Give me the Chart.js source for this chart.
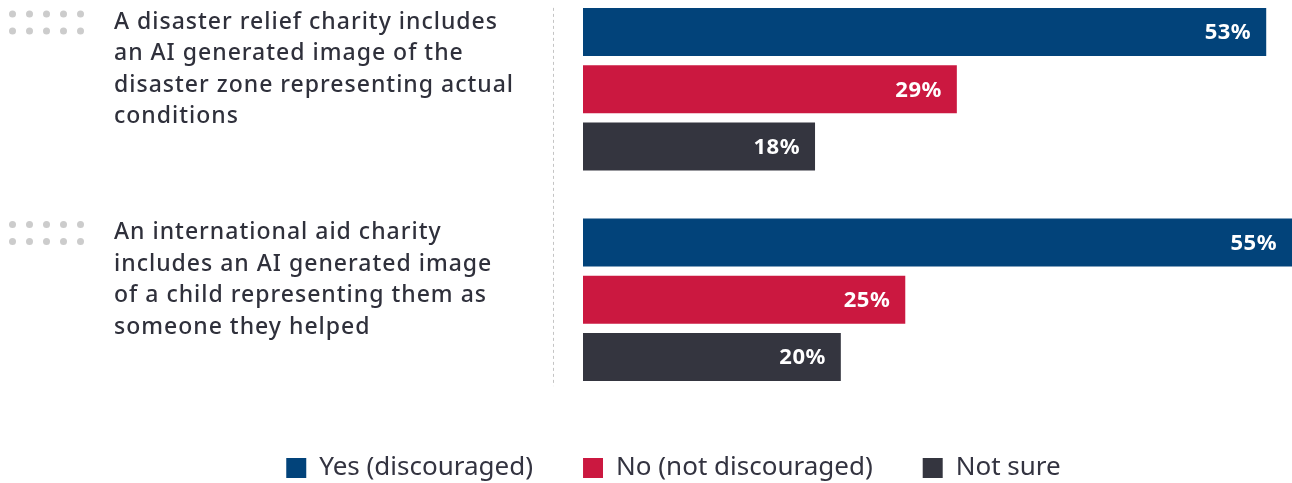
<!DOCTYPE html>
<html>
<head>
<meta charset="utf-8">
<script src="https://cdn.jsdelivr.net/npm/chart.js@4"></script>
<style>
  html, body { margin: 0; padding: 0; background: #fff; overflow: hidden; }
  #wrap { position: absolute; left: 0; top: -18px; width: 1292px; height: 509px; }
</style>
</head>
<body>
<div id="wrap"><canvas id="chart"></canvas></div>
<script>
const categories = [
  ['A disaster relief charity includes', 'an AI generated image of the', 'disaster zone representing actual', 'conditions'],
  ['An international aid charity', 'includes an AI generated image', 'of a child representing them as', 'someone they helped']
];
const series_names = ['Yes (discouraged)', 'No (not discouraged)', 'Not sure'];
const yes_values = [53, 55];
const no_values = [29, 25];
const not_sure_values = [18, 20];
const series_colors = ['#02437a', '#cb1840', '#34353f'];

const FONT = '"Noto Sans", sans-serif';

// left text, dot grid, dotted divider, value labels
const decorations = {
  id: 'decorations',
  afterDatasetsDraw (chart) {
    const ctx = chart.ctx;
    const first = chart.getDatasetMeta(0).data;
    const last = chart.getDatasetMeta(2).data;

    ctx.save();
    // dotted divider
    ctx.strokeStyle = '#c4c4c4';
    ctx.lineWidth = 1;
    ctx.setLineDash([3, 3]);
    const top = first[0].y - first[0].height / 2;
    const bottom = last[last.length - 1].y + last[last.length - 1].height / 2 + 5;
    ctx.beginPath();
    ctx.moveTo(553.5, top);
    ctx.lineTo(553.5, bottom);
    ctx.stroke();
    ctx.setLineDash([]);

    // category text and dots
    categories.forEach((lines, i) => {
      const barTop = first[i].y - first[i].height / 2;
      ctx.fillStyle = '#cccccc';
      for (let r = 0; r < 2; r++) {
        for (let c = 0; c < 5; c++) {
          ctx.beginPath();
          ctx.arc(12.5 + c * 17, barTop + 6 + r * 17, 3.5, 0, Math.PI * 2);
          ctx.fill();
        }
      }
      ctx.fillStyle = '#2f303b';
      ctx.font = '500 23px ' + FONT;
      ctx.letterSpacing = '1px';
      ctx.textAlign = 'left';
      ctx.textBaseline = 'alphabetic';
      lines.forEach((line, j) => {
        ctx.fillText(line, 114, barTop + 21 + j * 31.5);
      });
      ctx.letterSpacing = '0px';
    });

    // value labels inside bars
    ctx.fillStyle = '#ffffff';
    ctx.font = 'bold 22px ' + FONT;
    ctx.letterSpacing = '0.5px';
    ctx.textAlign = 'right';
    ctx.textBaseline = 'middle';
    chart.data.datasets.forEach((ds, d) => {
      chart.getDatasetMeta(d).data.forEach((bar, i) => {
        ctx.fillText(ds.data[i] + '%', bar.x - 15, bar.y + 1);
      });
    });
    ctx.restore();
  }
};

const datasets = [yes_values, no_values, not_sure_values].map((vals, i) => ({
  label: series_names[i],
  data: vals,
  backgroundColor: series_colors[i],
  borderWidth: 0,
  categoryPercentage: 0.816,
  barPercentage: 0.842
}));

new Chart(document.getElementById('chart').getContext('2d'), {
  type: 'bar',
  data: {
    labels: categories.map(c => c.join(' ')),
    datasets: datasets
  },
  options: {
    indexAxis: 'y',
    responsive: true,
    maintainAspectRatio: false,
    animation: false,
    events: [],
    layout: {
      // left padding nudges the centred legend to the right
      padding: { left: 55, right: 0, top: 2, bottom: 0 }
    },
    scales: {
      x: { display: false, min: 0, max: 55 },
      y: {
        display: true,
        ticks: { display: false },
        grid: { display: false },
        border: { display: false },
        afterFit: scale => { scale.width = 528; }
      }
    },
    plugins: {
      tooltip: { enabled: false },
      legend: {
        position: 'bottom',
        labels: {
          boxWidth: 20,
          boxHeight: 20,
          padding: 50,
          color: '#333340',
          font: { family: FONT, size: 26 }
        }
      }
    }
  },
  plugins: [decorations]
});
</script>
</body>
</html>
